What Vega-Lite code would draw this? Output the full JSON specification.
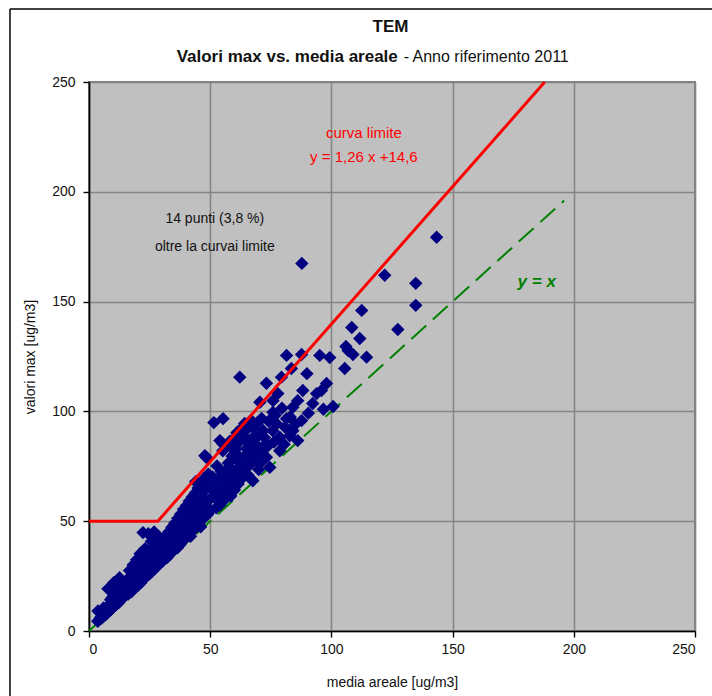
{
  "$schema": "https://vega.github.io/schema/vega-lite/v6.json",
  "width": 606,
  "height": 549,
  "autosize": {"type": "none"},
  "padding": {"left": 89, "top": 82, "right": 17, "bottom": 65},
  "background": "white",
  "config": {
    "view": {"fill": "#C0C0C0", "stroke": "#808080", "strokeWidth": 2},
    "font": "Liberation Sans",
    "axis": {
      "grid": true, "gridColor": "#858585", "gridWidth": 1.6,
      "domainColor": "black", "domainWidth": 1.6,
      "tickColor": "black", "tickSize": 6, "tickWidth": 1.4,
      "labelFontSize": 14, "labelColor": "#111111",
      "titleFontSize": 14, "titleFontWeight": "normal", "titleColor": "#111111"
    }
  },
  "datasets": {
    "pts": [
      {"x":4.2,"y":5.1},{"x":4.8,"y":6.3},{"x":5.3,"y":5.9},{"x":5.6,"y":7.4},{"x":6.1,"y":6.8},{"x":6.4,"y":8.9},{"x":6.9,"y":7.5},{"x":7.2,"y":9.6},{"x":7.5,"y":8.2},{"x":7.9,"y":10.4},
      {"x":8.3,"y":9.1},{"x":8.6,"y":11.2},{"x":8.8,"y":9.6},{"x":9.1,"y":12.7},{"x":9.4,"y":10.3},{"x":9.7,"y":11.8},{"x":10.0,"y":10.9},{"x":10.3,"y":13.4},{"x":10.6,"y":11.6},{"x":10.9,"y":14.2},
      {"x":11.2,"y":12.1},{"x":11.5,"y":15.8},{"x":11.7,"y":13.0},{"x":12.0,"y":14.6},{"x":12.2,"y":12.9},{"x":12.5,"y":16.4},{"x":12.6,"y":24.3},{"x":12.8,"y":13.8},{"x":13.1,"y":17.2},{"x":13.3,"y":14.5},
      {"x":13.6,"y":15.9},{"x":13.9,"y":18.7},{"x":14.1,"y":15.2},{"x":14.4,"y":17.5},{"x":14.7,"y":16.1},{"x":15.0,"y":19.8},{"x":15.2,"y":16.4},{"x":7.8,"y":19.2},{"x":10.2,"y":22.0},{"x":11.3,"y":20.6},
      {"x":14.2,"y":21.7},{"x":13.0,"y":20.4},{"x":11.9,"y":18.9},{"x":10.8,"y":17.5},{"x":9.6,"y":15.3},{"x":8.9,"y":14.2},{"x":6.0,"y":10.5},{"x":5.0,"y":8.7},{"x":3.6,"y":4.4},{"x":3.7,"y":9.1},
      {"x":15.5,"y":18.3},{"x":15.8,"y":17.1},{"x":16.0,"y":20.9},{"x":16.2,"y":16.8},{"x":16.5,"y":19.4},{"x":16.8,"y":22.5},{"x":17.0,"y":18.2},{"x":17.3,"y":20.6},{"x":17.5,"y":17.9},{"x":17.8,"y":23.4},
      {"x":18.0,"y":19.7},{"x":18.3,"y":21.8},{"x":18.5,"y":25.1},{"x":18.8,"y":19.6},{"x":19.0,"y":22.7},{"x":19.3,"y":20.4},{"x":19.5,"y":26.3},{"x":19.8,"y":21.5},{"x":20.0,"y":23.9},{"x":20.3,"y":20.8},
      {"x":20.5,"y":27.2},{"x":20.8,"y":22.6},{"x":21.0,"y":25.3},{"x":21.3,"y":21.9},{"x":21.5,"y":28.4},{"x":21.8,"y":23.5},{"x":22.0,"y":26.7},{"x":22.3,"y":44.8},{"x":22.5,"y":24.1},{"x":22.8,"y":29.6},
      {"x":23.0,"y":25.8},{"x":23.3,"y":31.2},{"x":23.5,"y":24.6},{"x":23.8,"y":27.9},{"x":24.0,"y":33.5},{"x":24.3,"y":26.2},{"x":24.5,"y":44.3},{"x":24.8,"y":29.4},{"x":25.0,"y":26.0},{"x":25.3,"y":35.8},
      {"x":25.5,"y":28.1},{"x":25.8,"y":31.7},{"x":26.0,"y":27.3},{"x":26.3,"y":38.6},{"x":26.5,"y":29.9},{"x":26.8,"y":33.1},{"x":27.0,"y":28.2},{"x":27.3,"y":41.2},{"x":27.5,"y":30.6},{"x":27.8,"y":35.4},
      {"x":28.0,"y":29.4},{"x":28.3,"y":32.8},{"x":28.5,"y":37.9},{"x":28.8,"y":30.3},{"x":29.0,"y":34.6},{"x":29.3,"y":31.5},{"x":29.5,"y":39.8},{"x":29.8,"y":32.7},{"x":30.0,"y":36.1},{"x":16.7,"y":27.5},
      {"x":18.2,"y":30.1},{"x":19.6,"y":32.4},{"x":21.1,"y":35.2},{"x":17.4,"y":24.8},{"x":20.2,"y":29.6},{"x":23.1,"y":37.4},{"x":25.7,"y":40.8},{"x":26.9,"y":45.1},{"x":28.6,"y":43.2},{"x":15.9,"y":23.6},
      {"x":30.3,"y":31.8},{"x":30.6,"y":40.7},{"x":30.9,"y":34.2},{"x":31.2,"y":37.5},{"x":31.5,"y":33.1},{"x":31.8,"y":43.6},{"x":32.1,"y":35.8},{"x":32.4,"y":39.9},{"x":32.7,"y":34.4},{"x":33.0,"y":45.2},
      {"x":33.3,"y":37.1},{"x":33.6,"y":41.8},{"x":33.9,"y":35.6},{"x":34.2,"y":47.3},{"x":34.5,"y":38.4},{"x":34.8,"y":43.2},{"x":35.1,"y":36.9},{"x":35.4,"y":49.1},{"x":35.7,"y":40.2},{"x":36.0,"y":45.6},
      {"x":36.3,"y":38.0},{"x":36.6,"y":51.3},{"x":36.9,"y":42.1},{"x":37.2,"y":47.4},{"x":37.5,"y":39.3},{"x":37.8,"y":53.2},{"x":38.1,"y":43.5},{"x":38.4,"y":49.8},{"x":38.7,"y":41.0},{"x":39.0,"y":55.4},
      {"x":39.3,"y":45.2},{"x":39.6,"y":51.5},{"x":39.9,"y":42.3},{"x":40.2,"y":57.1},{"x":40.5,"y":46.8},{"x":40.8,"y":53.7},{"x":41.1,"y":43.6},{"x":41.4,"y":59.2},{"x":41.7,"y":48.5},{"x":42.0,"y":55.3},
      {"x":42.3,"y":45.1},{"x":42.6,"y":61.0},{"x":42.9,"y":50.2},{"x":43.2,"y":57.4},{"x":43.5,"y":46.7},{"x":43.8,"y":62.8},{"x":44.1,"y":51.9},{"x":44.4,"y":59.3},{"x":44.7,"y":48.2},{"x":45.0,"y":65.1},
      {"x":45.3,"y":53.6},{"x":45.6,"y":61.2},{"x":45.9,"y":49.8},{"x":46.2,"y":67.0},{"x":46.5,"y":55.4},{"x":46.8,"y":63.1},{"x":47.1,"y":51.2},{"x":47.4,"y":69.3},{"x":47.8,"y":79.8},{"x":48.0,"y":57.6},
      {"x":48.3,"y":65.2},{"x":48.6,"y":78.9},{"x":48.9,"y":53.0},{"x":49.2,"y":71.4},{"x":49.5,"y":59.7},{"x":49.8,"y":67.3},{"x":50.1,"y":54.8},{"x":31.0,"y":38.9},{"x":33.5,"y":40.1},{"x":35.9,"y":43.8},
      {"x":38.3,"y":46.1},{"x":40.7,"y":49.9},{"x":43.0,"y":52.8},{"x":45.4,"y":56.7},{"x":47.7,"y":60.4},{"x":32.2,"y":33.4},{"x":36.5,"y":37.9},{"x":41.9,"y":43.1},{"x":46.1,"y":47.5},{"x":44.0,"y":68.0},
      {"x":52.0,"y":60.5},{"x":52.5,"y":56.1},{"x":53.0,"y":68.9},{"x":53.5,"y":62.3},{"x":54.0,"y":57.4},{"x":54.5,"y":72.6},{"x":55.0,"y":64.1},{"x":55.2,"y":85.3},{"x":55.2,"y":82.1},{"x":55.5,"y":59.3},
      {"x":56.0,"y":70.2},{"x":56.5,"y":73.0},{"x":57.0,"y":62.8},{"x":57.5,"y":76.5},{"x":58.0,"y":67.4},{"x":58.5,"y":61.5},{"x":59.0,"y":79.7},{"x":59.5,"y":70.8},{"x":60.0,"y":64.2},{"x":60.5,"y":82.9},
      {"x":61.0,"y":73.5},{"x":61.5,"y":66.9},{"x":62.0,"y":86.1},{"x":62.2,"y":115.6},{"x":62.5,"y":76.3},{"x":63.0,"y":69.4},{"x":63.5,"y":89.0},{"x":64.0,"y":79.4},{"x":64.5,"y":71.8},{"x":65.0,"y":83.0},
      {"x":65.5,"y":92.2},{"x":66.0,"y":75.3},{"x":66.5,"y":85.7},{"x":67.0,"y":69.1},{"x":67.6,"y":68.4},{"x":68.0,"y":88.4},{"x":68.5,"y":78.2},{"x":69.1,"y":80.7},{"x":69.5,"y":94.9},{"x":70.0,"y":73.5},
      {"x":62.9,"y":92.2},{"x":71.7,"y":91.2},{"x":67.6,"y":84.4},{"x":67.6,"y":79.1},{"x":73.2,"y":83.6},{"x":58.8,"y":83.6},{"x":62.2,"y":79.1},{"x":65.0,"y":75.3},{"x":60.9,"y":73.0},{"x":70.5,"y":76.2},
      {"x":69.1,"y":88.2},{"x":55.3,"y":96.7},{"x":54.0,"y":86.7},{"x":56.5,"y":73.0},{"x":51.5,"y":94.9},{"x":61.0,"y":90.3},
      {"x":57.2,"y":70.5},{"x":58.6,"y":74.1},{"x":59.8,"y":68.2},{"x":61.3,"y":77.8},{"x":63.7,"y":74.6},{"x":64.8,"y":86.9},{"x":66.3,"y":80.2},{"x":68.8,"y":85.1},{"x":70.8,"y":81.9},{"x":72.4,"y":88.0},
      {"x":71.2,"y":96.8},{"x":74.1,"y":95.5},{"x":76.8,"y":98.2},{"x":79.6,"y":101.4},{"x":80.9,"y":92.8},{"x":83.0,"y":97.5},{"x":85.2,"y":94.1},{"x":90.5,"y":99.2},{"x":92.3,"y":103.6},{"x":96.7,"y":101.0},
      {"x":53.8,"y":65.7},{"x":56.8,"y":67.0},{"x":60.3,"y":70.1},{"x":62.8,"y":72.9},{"x":65.6,"y":71.0},{"x":51.2,"y":63.8},{"x":50.8,"y":70.3},{"x":52.8,"y":75.1},{"x":58.1,"y":86.4},{"x":60.2,"y":88.0},
      {"x":64.2,"y":94.5},{"x":66.8,"y":96.0},
      {"x":81.5,"y":125.5},{"x":87.7,"y":125.9},{"x":95.2,"y":125.5},{"x":99.3,"y":124.5},{"x":106.9,"y":127.7},{"x":108.9,"y":125.9},{"x":111.7,"y":133.2},{"x":114.5,"y":124.7},{"x":105.5,"y":119.5},{"x":73.2,"y":112.8},
      {"x":79.4,"y":115.6},{"x":83.5,"y":119.5},{"x":89.9,"y":117.2},{"x":98.0,"y":112.7},{"x":95.9,"y":109.5},{"x":93.9,"y":108.1},{"x":100.7,"y":102.2},{"x":88.2,"y":109.5},{"x":86.1,"y":104.9},{"x":84.1,"y":101.9},
      {"x":77.9,"y":108.1},{"x":75.9,"y":104.9},{"x":70.5,"y":104.2},{"x":75.9,"y":99.6},{"x":87.7,"y":95.8},{"x":81.5,"y":96.7},{"x":77.4,"y":94.4},{"x":71.8,"y":91.2},{"x":67.7,"y":92.7},{"x":62.2,"y":91.2},
      {"x":73.2,"y":85.3},{"x":69.1,"y":80.7},{"x":75.8,"y":91.2},{"x":78.7,"y":88.2},{"x":84.1,"y":91.2},{"x":74.6,"y":74.5},{"x":78.7,"y":82.1},{"x":86.1,"y":86.7},{"x":73.2,"y":79.1},{"x":80.5,"y":85.0},
      {"x":82.8,"y":88.9},{"x":76.3,"y":86.0},
      {"x":143.4,"y":179.3},{"x":87.8,"y":167.4},{"x":122.0,"y":162.0},{"x":134.8,"y":158.3},{"x":134.8,"y":148.3},{"x":112.5,"y":146.0},{"x":108.4,"y":138.2},{"x":127.4,"y":137.3},{"x":106.0,"y":129.6}
    ],
    "limite": [{"x":0,"y":50},{"x":28.4,"y":50},{"x":188,"y":250}],
    "bisettrice": [{"x":0,"y":0},{"x":196,"y":196}],
    "uno": [{}]
  },
  "layer": [
    {
      "data": {"name": "bisettrice"},
      "mark": {"type": "line", "color": "#008000", "strokeWidth": 2, "strokeDash": [20, 9]},
      "encoding": {
        "x": {"field": "x", "type": "quantitative", "scale": {"domain": [0, 250], "nice": false},
              "axis": {"title": "media areale [ug/m3]", "values": [0,50,100,150,200,250], "labelPadding": 5, "titlePadding": 19}},
        "y": {"field": "y", "type": "quantitative", "scale": {"domain": [0, 250], "nice": false},
              "axis": {"title": "valori max  [ug/m3]", "values": [0,50,100,150,200,250], "labelPadding": 8, "titlePadding": 14}}
      }
    },
    {
      "data": {"name": "pts"},
      "mark": {"type": "point", "shape": "diamond", "filled": true, "color": "#000080", "size": 180, "opacity": 1},
      "encoding": {
        "x": {"field": "x", "type": "quantitative"},
        "y": {"field": "y", "type": "quantitative"}
      }
    },
    {
      "data": {"name": "limite"},
      "mark": {"type": "line", "color": "#FF0000", "strokeWidth": 3},
      "encoding": {
        "x": {"field": "x", "type": "quantitative"},
        "y": {"field": "y", "type": "quantitative"}
      }
    },
    {
      "data": {"name": "uno"},
      "mark": {"type": "text", "text": ["curva limite", "y = 1,26 x +14,6"], "color": "#FF0000", "fontSize": 15, "lineHeight": 24, "align": "center", "baseline": "middle"},
      "encoding": {"x": {"datum": 113.4}, "y": {"datum": 227}}
    },
    {
      "data": {"name": "uno"},
      "mark": {"type": "text", "text": ["14 punti (3,8 %)", "oltre la curvai limite"], "color": "#111111", "fontSize": 14, "lineHeight": 28, "align": "center", "baseline": "middle"},
      "encoding": {"x": {"datum": 51.9}, "y": {"datum": 187.8}}
    },
    {
      "data": {"name": "uno"},
      "mark": {"type": "text", "text": "y = x", "color": "#008000", "fontSize": 17, "fontWeight": "bold", "fontStyle": "italic", "align": "center", "baseline": "middle"},
      "encoding": {"x": {"datum": 184.7}, "y": {"datum": 158.9}}
    },
    {
      "data": {"name": "uno"},
      "mark": {"type": "text", "text": "TEM", "color": "#111111", "fontSize": 17, "fontWeight": "bold", "align": "center", "baseline": "middle"},
      "encoding": {"x": {"datum": 124.4}, "y": {"datum": 275}}
    },
    {
      "data": {"name": "uno"},
      "mark": {"type": "text", "text": "Valori max vs. media areale", "color": "#111111", "fontSize": 17, "fontWeight": "bold", "align": "right", "baseline": "middle"},
      "encoding": {"x": {"datum": 127.4}, "y": {"datum": 261.4}}
    },
    {
      "data": {"name": "uno"},
      "mark": {"type": "text", "text": "- Anno riferimento 2011", "color": "#111111", "fontSize": 16, "align": "left", "baseline": "middle"},
      "encoding": {"x": {"datum": 129.8}, "y": {"datum": 261.4}}
    },
    {
      "data": {"name": "uno"},
      "mark": {"type": "rule", "color": "black", "strokeWidth": 1.5},
      "encoding": {"x": {"datum": -32.6}, "y": {"datum": -40}, "y2": {"datum": 283.2}}
    },
    {
      "data": {"name": "uno"},
      "mark": {"type": "rule", "color": "black", "strokeWidth": 1.5},
      "encoding": {"y": {"datum": 283.2}, "x": {"datum": -32.6}, "x2": {"datum": 270}}
    }
  ]
}
